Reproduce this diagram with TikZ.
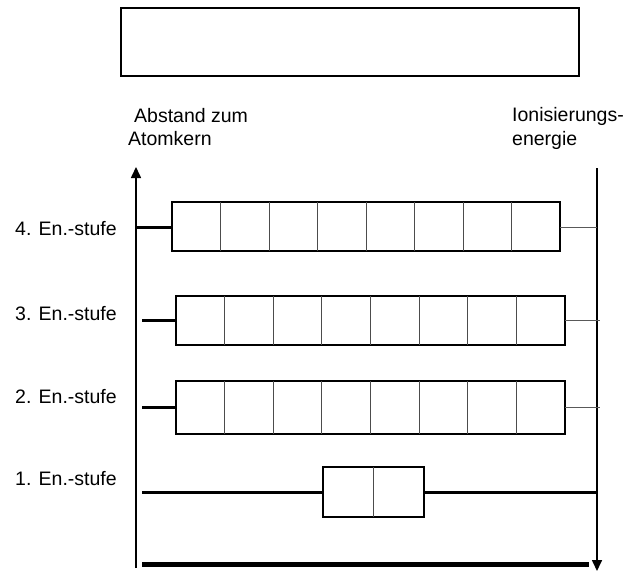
\documentclass[tikz,border=0pt]{standalone}
\usepackage{fontspec}
\setmainfont{Liberation Sans}
\usetikzlibrary{arrows.meta,calc}
\begin{document}
\begin{tikzpicture}[x=1pt,y=-1pt,
  lbl/.style={anchor=base west,inner sep=0pt,font=\fontsize{19.5}{23}\selectfont},
  shell/.style={draw,line width=2.2pt,anchor=north west,inner sep=0pt,outer sep=0pt,minimum width=#1pt},
  cellline/.style={line width=0.9pt,draw=black!70},
  lconn/.style={line width=3pt},
  rconn/.style={line width=1pt,draw=black!65},
  axis/.style={line width=1.6pt,-{Triangle[length=11pt,width=10pt]}}]
\useasboundingbox (0,0) rectangle (642,571);
% top empty box
\node[draw,line width=2pt,anchor=north west,minimum width=458pt,minimum height=68pt,inner sep=0pt,outer sep=0pt] (top) at (121,8) {};
% headings
\node[lbl] (h1) at (134,122) {Abstand zum};
\node[lbl] (h2) at (128,145) {Atomkern};
\node[lbl] (i1) at (512,121) {Ionisierungs-};
\node[lbl] (i2) at (512,145) {energie};
% axes
\coordinate (la0) at (136,568);
\coordinate (la1) at (136,167);
\coordinate (ra0) at (597,168);
\coordinate (ra1) at (597,571);
\draw[axis] (la0) -- (la1);
\draw[axis] (ra0) -- (ra1);
% level labels
\node[lbl] (l4) at (15,235) {4. En.-stufe};
\node[lbl] (l3) at (15,320) {3. En.-stufe};
\node[lbl] (l2) at (15,403) {2. En.-stufe};
\node[lbl] (l1) at (15,485) {1. En.-stufe};
% level 4
\node[shell=388,minimum height=49pt] (b4) at (172,202) {};
\foreach \i in {1,...,7}{\draw[cellline] ($(b4.north west)+(\i*48.5,0)$) -- ($(b4.south west)+(\i*48.5,0)$);}
\coordinate (c4l) at (136,227);
\coordinate (c4r) at (597,227);
\draw[lconn] (c4l) -- (c4l -| b4.west);
\draw[rconn] (c4r -| b4.east) -- (c4r);
% level 3
\node[shell=389,minimum height=49pt] (b3) at (176,296) {};
\foreach \i in {1,...,7}{\draw[cellline] ($(b3.north west)+(\i*48.6,0)$) -- ($(b3.south west)+(\i*48.6,0)$);}
\coordinate (c3l) at (142,320.5);
\coordinate (c3r) at (600,320.5);
\draw[lconn] (c3l) -- (c3l -| b3.west);
\draw[rconn] (c3r -| b3.east) -- (c3r);
% level 2
\node[shell=389,minimum height=53pt] (b2) at (176,381) {};
\foreach \i in {1,...,7}{\draw[cellline] ($(b2.north west)+(\i*48.6,0)$) -- ($(b2.south west)+(\i*48.6,0)$);}
\coordinate (c2l) at (142,407.5);
\coordinate (c2r) at (600,407.5);
\draw[lconn] (c2l) -- (c2l -| b2.west);
\draw[rconn] (c2r -| b2.east) -- (c2r);
% level 1
\node[draw,line width=2pt,anchor=north west,inner sep=0pt,outer sep=0pt,minimum width=101pt,minimum height=50pt] (b1) at (323,467) {};
\draw[cellline] (b1.north) -- (b1.south);
\coordinate (c1l) at (142,492);
\coordinate (c1r) at (597,492);
\draw[lconn] (c1l) -- (c1l -| b1.west);
\draw[lconn] (c1r -| b1.east) -- (c1r);
% bottom line
\coordinate (bl0) at (142,564.5);
\coordinate (bl1) at (589,564.5);
\draw[line width=4.5pt] (bl0) -- (bl1);
\end{tikzpicture}
\end{document}
